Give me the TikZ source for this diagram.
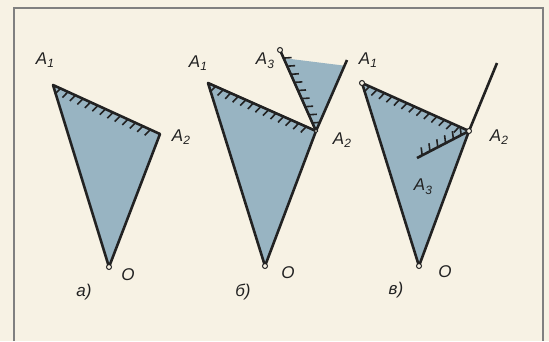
\documentclass[tikz,border=0pt]{standalone}
\usepackage{fontspec}
\setmainfont{Liberation Sans}
\usetikzlibrary{calc}
\definecolor{paper}{RGB}{247,242,228}
\definecolor{wedge}{RGB}{152,180,194}
\definecolor{ink}{RGB}{34,34,34}
\newcommand{\idx}[1]{\raisebox{-0.4ex}{\fontsize{12}{12}\selectfont #1}}

\begin{document}
\begin{tikzpicture}[x=1pt,y=-1pt,
  lbl/.style={font=\fontsize{17}{19}\selectfont\itshape,text=ink,inner sep=0pt},
  edge/.style={ink,line width=2.6pt,line join=round},
  hatch/.style={ink,line width=1.6pt},
  pt/.style={circle,draw=ink,fill=paper,line width=1pt,inner sep=0pt,minimum size=5pt}]
\fill[paper] (0,0) rectangle (549,341);
\useasboundingbox (0,0) rectangle (549,341);
\draw[black!50,line width=1.4pt] (14,341) -- (14,8) -- (543,8) -- (543,341);
% a)
\coordinate (a1) at (53,85);
\coordinate (a2) at (160,134);
\coordinate (ao) at (109,267);
\fill[wedge] (a1) -- (a2) -- (ao) -- cycle;
\foreach \t in {0.07,0.14,...,0.95}
  \draw[hatch] ($(a1)!\t!(a2)$) -- ($(a1)!\t!(a2)!8pt!-110:(a2)$);
\draw[edge] (a1) -- (a2) -- (ao) -- cycle;
\node[pt] (pa) at (ao) {};
\node[lbl] (la1) at (45,60) {A\idx{1}};
\node[lbl] (la2) at (181,137) {A\idx{2}};
\node[lbl] (lao) at (128,275) {O};
\node[lbl] (capa) at (84,292) {а)};
% b)
\coordinate (b1) at (208,83);
\coordinate (b2) at (316,131);
\coordinate (bo) at (265,266);
\coordinate (b3) at (280,50);
\coordinate (br) at (347,60);
\fill[wedge] (b1) -- (b2) -- (bo) -- cycle;
\fill[wedge] (b2) -- ($(b2)!0.9!(b3)$) -- ($(b2)!0.92!(br)$) -- cycle;
\foreach \t in {0.07,0.14,...,0.95}
  \draw[hatch] ($(b1)!\t!(b2)$) -- ($(b1)!\t!(b2)!8pt!-110:(b2)$);
\foreach \t in {0.1,0.2,...,0.95}
  \draw[hatch] ($(b2)!\t!(b3)$) -- ($(b2)!\t!(b3)!8pt!-110:(b3)$);
\draw[edge] (b1) -- (b2) -- (bo) -- cycle;
\draw[edge] (b3) -- (b2) -- (br);
\node[pt] (pb) at (bo) {};
\node[pt] (pb3) at (b3) {};
\node[pt,minimum size=3.5pt] (pb2) at (b2) {};
\node[lbl] (lb1) at (198,63) {A\idx{1}};
\node[lbl] (lb3) at (265,61) {A\idx{3}};
\node[lbl] (lb2) at (342,140) {A\idx{2}};
\node[lbl] (lbo) at (288,273) {O};
\node[lbl] (capb) at (243,292) {б)};
% в)
\coordinate (c1) at (362,83);
\coordinate (c2) at (469,131);
\coordinate (co) at (419,266);
\coordinate (c3) at (417,158);
\coordinate (cr) at (497,63);
\fill[wedge] (c1) -- (c2) -- (co) -- cycle;
\foreach \t in {0.07,0.14,...,0.95}
  \draw[hatch] ($(c1)!\t!(c2)$) -- ($(c1)!\t!(c2)!8pt!-110:(c2)$);
\foreach \t in {0.15,0.3,...,0.95}
  \draw[hatch] ($(c2)!\t!(c3)$) -- ($(c2)!\t!(c3)!8pt!-110:(c3)$);
\draw[edge] (c1) -- (c2) -- (co) -- cycle;
\draw[edge] (c3) -- (c2) -- (cr);
\node[pt] (pc) at (co) {};
\node[pt] (pc1) at (c1) {};
\node[pt] (pc2) at (c2) {};
\node[lbl] (lc1) at (368,60) {A\idx{1}};
\node[lbl] (lc2) at (499,137) {A\idx{2}};
\node[lbl] (lc3) at (423,187) {A\idx{3}};
\node[lbl] (lco) at (445,272) {O};
\node[lbl] (capc) at (396,290) {в)};
\end{tikzpicture}
\end{document}
